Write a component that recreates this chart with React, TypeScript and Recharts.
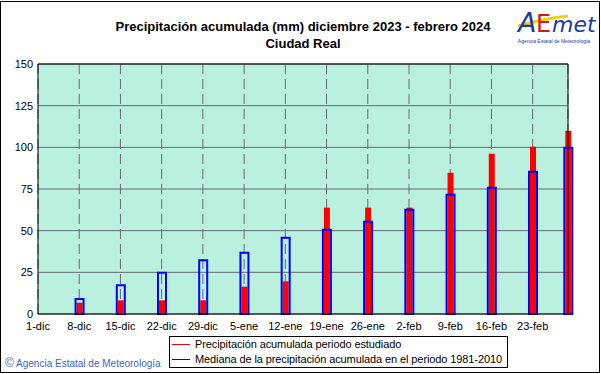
import React from 'react';
import { ComposedChart, Bar, XAxis, YAxis, CartesianGrid, ReferenceLine } from 'recharts';

const dayOffsets = [7, 14, 21, 28, 35, 42, 49, 56, 63, 70, 77, 84, 90];
const precipitacion = [6.8, 8.2, 8.2, 8.2, 16.4, 19.6, 63.8, 63.8, 63.8, 84.8, 96.2, 100.4, 110];
const mediana = [9, 17.3, 24.7, 32.3, 36.7, 45.7, 50.5, 55.3, 62.5, 71.5, 75.7, 85.3, 99.7];
const tickDays = [0, 7, 14, 21, 28, 35, 42, 49, 56, 63, 70, 77, 84];
const tickLabels = ['1-dic', '8-dic', '15-dic', '22-dic', '29-dic', '5-ene', '12-ene', '19-ene', '26-ene', '2-feb', '9-feb', '16-feb', '23-feb'];
const yTicks = [0, 25, 50, 75, 100, 125, 150];

const data = dayOffsets.map((d, i) => ({ day: d, precip: precipitacion[i], median: mediana[i] }));

const FONT = '"Liberation Sans", Arial, sans-serif';

const LegendBox = () => (
  <div
    style={{
      position: 'absolute',
      left: 169,
      top: 336,
      height: 30,
      border: '1px solid #000',
      background: '#fff',
      fontFamily: FONT,
      fontSize: 11,
      letterSpacing: '-0.1px',
      color: '#000',
      paddingRight: 5,
      boxSizing: 'content-box',
    }}
  >
    {[
      { c: '#ff0000', t: 'Precipitación acumulada periodo estudiado' },
      { c: '#0000ff', t: 'Mediana de la precipitación acumulada en el periodo 1981-2010' },
    ].map((r, i) => (
      <div key={i} style={{ position: 'relative', height: 15, whiteSpace: 'nowrap', paddingLeft: 25, lineHeight: '15px' }}>
        <span style={{ position: 'absolute', left: 2, top: 7, width: 18, height: 1, background: r.c }} />
        {r.t}
      </div>
    ))}
  </div>
);

export default function App() {
  return (
    <div style={{ position: 'absolute', left: 0, top: 0, width: 601, height: 374, background: '#fff', overflow: 'hidden' }}>
      <div style={{ position: 'absolute', left: 0, top: 1, width: 600, height: 372, border: '1px solid #000', boxSizing: 'border-box' }} />
      <div style={{ position: 'absolute', left: 0, top: 18, width: 606, textAlign: 'center', fontFamily: FONT, fontWeight: 'bold', fontSize: 13, lineHeight: '17px', color: '#000' }}>
        <div>Precipitación acumulada (mm) diciembre 2023 - febrero 2024</div>
        <div>Ciudad Real</div>
      </div>
      <svg style={{ position: 'absolute', left: 512, top: 4 }} width={84} height={42}>
        <path d="M6 22 C 20 18, 34 14, 56 12" stroke="#f5d000" strokeWidth={3} fill="none" />
        <text x={6} y={28} fontFamily="DejaVu Sans, sans-serif" fontStyle="italic" fontSize={27} fill="#1a3aa8" fontWeight={300}>A</text>
        <text x={24} y={28} fontFamily="DejaVu Sans, sans-serif" fontSize={24} fill="#d01818">E</text>
        <text x={40} y={28} fontFamily="DejaVu Sans, sans-serif" fontStyle="italic" fontSize={22} fill="#1a3aa8">met</text>
        <text x={42} y={39} textAnchor="middle" fontFamily={FONT} fontSize={5} fill="#1a3aa8">Agencia Estatal de Meteorología</text>
      </svg>
      <div style={{ position: 'absolute', left: 5, top: 356, fontFamily: FONT, fontSize: 10, color: '#3a64d0', whiteSpace: 'nowrap' }}>
        <span style={{ fontSize: 12 }}>©</span> Agencia Estatal de Meteorología
      </div>
      <LegendBox />
      <div style={{ position: 'absolute', left: 0, top: 0 }}>
        <ComposedChart width={601} height={374} data={data} margin={{ top: 64, right: 33, bottom: 40, left: 8 }}>
          <CartesianGrid horizontal={true} vertical={false} stroke="#6a6a72" fill="#b9f1de" fillOpacity={1} xAxisId="a" />
          <CartesianGrid horizontal={false} vertical={true} stroke="#6a6a72" strokeDasharray="10 5" xAxisId="a" />
          <XAxis
            xAxisId="a"
            dataKey="day"
            type="number"
            domain={[0, 90]}
            ticks={tickDays}
            tickFormatter={(v: number) => tickLabels[tickDays.indexOf(v)] ?? ''}
            axisLine={{ stroke: '#000' }}
            tickLine={false}
            tickSize={0}
            tickMargin={8}
            height={20}
            interval={0}
            allowDecimals={false}
            tick={{ fontFamily: FONT, fontSize: 11, fill: '#000' }}
          />
          <XAxis xAxisId="b" dataKey="day" type="number" domain={[0, 90]} ticks={tickDays} hide />
          <YAxis
            domain={[0, 150]}
            ticks={yTicks}
            width={30}
            axisLine={{ stroke: '#000' }}
            tickLine={false}
            tickSize={0}
            tickMargin={5}
            interval={0}
            tick={{ fontFamily: FONT, fontSize: 11, fill: '#000' }}
          />
          <ReferenceLine xAxisId="a" y={150} stroke="#000" />
          <ReferenceLine xAxisId="a" x={90} stroke="#000" />
          <Bar xAxisId="a" dataKey="precip" fill="#ff0000" barSize={6} isAnimationActive={false} />
          <Bar xAxisId="b" dataKey="median" fill="none" stroke="#0000ff" strokeWidth={2} barSize={8} isAnimationActive={false} />
        </ComposedChart>
      </div>
    </div>
  );
}
